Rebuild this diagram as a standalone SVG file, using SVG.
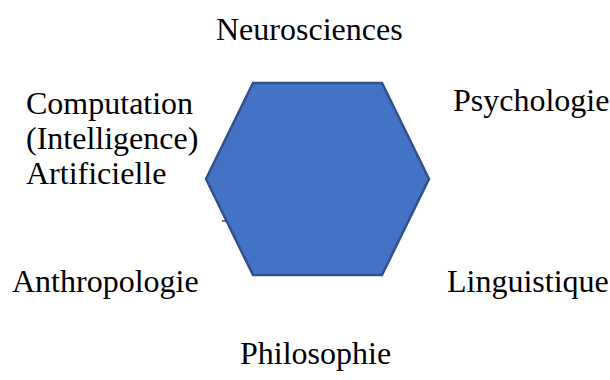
<svg xmlns="http://www.w3.org/2000/svg" width="610" height="380" viewBox="0 0 610 380">
<style>
.lbl{font-family:"Liberation Serif","Times New Roman",serif;font-size:32px;fill:#000}
.hex{fill:#4472C4;stroke:#2F528F;stroke-width:2.5}
</style>
<rect width="610" height="380" fill="#fff"/>
<g id="hexagon">
<polygon class="hex" points="253,83 382,83 429,179 382,275 253,275 206,179"/>
</g>
<g id="connectors"></g>
<g id="neurosciences"><text class="lbl" x="216" y="40">Neurosciences</text></g>
<g id="psychologie"><text class="lbl" x="453" y="111">Psychologie</text></g>
<g id="computation"><text class="lbl" x="26" y="114">Computation</text><text class="lbl" x="26" y="149">(Intelligence)</text><text class="lbl" x="26" y="184">Artificielle</text></g>
<g id="anthropologie"><text class="lbl" x="12" y="292">Anthropologie</text></g>
<g id="linguistique"><text class="lbl" x="447" y="292">Linguistique</text></g>
<g id="philosophie"><text class="lbl" x="240" y="364">Philosophie</text></g>
<line x1="222" y1="221" x2="226" y2="221" stroke="#000" stroke-width="1"/>
</svg>
